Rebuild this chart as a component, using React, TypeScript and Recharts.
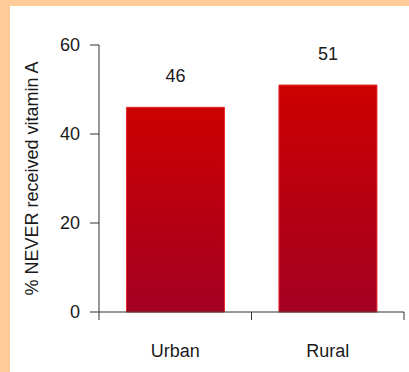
import { Bar, BarChart, LabelList, XAxis, YAxis } from "recharts";

const categories = ["Urban", "Rural"];
const neverReceived = [46, 51];
const yTicks = [0, 20, 40, 60];

const data = categories.map((name, i) => ({ name, value: neverReceived[i] }));

const FONT = "'Liberation Sans', Arial, sans-serif";
const AXIS = "#333";
const TEXT = "#1a1a1a";
const X_TICK_SIZE = 8;
const X_TICK_MARGIN = 4;

// category labels centred in each band, with the tick marks sitting on the band edges
function EdgeTick(props: any) {
  const { x, y, payload, index, visibleTicksCount, width } = props;
  const half = payload.offset ?? width / visibleTicksCount / 2;
  const axisY = y - X_TICK_SIZE - X_TICK_MARGIN;
  const last = index === visibleTicksCount - 1;
  return (
    <g>
      <line x1={x - half} x2={x - half} y1={axisY} y2={axisY + X_TICK_SIZE} stroke={AXIS} />
      {last && <line x1={x + half} x2={x + half} y1={axisY} y2={axisY + X_TICK_SIZE} stroke={AXIS} />}
      <text x={x} y={axisY + 45} textAnchor="middle" fontSize={18} fill={TEXT} fontFamily={FONT}>
        {payload.value}
      </text>
    </g>
  );
}

export default function App() {
  return (
    <div style={{ position: "absolute", left: 0, top: 0, width: 409, height: 372, background: "#FFCC99" }}>
      <div style={{ position: "absolute", left: 10, top: 6, width: 399, height: 366, background: "#fff" }}>
        <BarChart
          width={399}
          height={366}
          data={data}
          margin={{ top: 39, right: 5, left: 0, bottom: 0 }}
          barCategoryGap="18%"
          style={{ fontFamily: FONT }}
        >
          <defs>
            <linearGradient id="barFill" x1="0" y1="0" x2="0" y2="1">
              <stop offset="0%" stopColor="#CC0000" />
              <stop offset="100%" stopColor="#A30022" />
            </linearGradient>
          </defs>
          <XAxis
            dataKey="name"
            height={60}
            axisLine={{ stroke: AXIS }}
            tickLine={false}
            tickSize={X_TICK_SIZE}
            tickMargin={X_TICK_MARGIN}
            tick={<EdgeTick />}
          />
          <YAxis
            width={89}
            domain={[0, 60]}
            ticks={yTicks}
            axisLine={{ stroke: AXIS }}
            tickLine={{ stroke: AXIS }}
            tickSize={9}
            tickMargin={10}
            tick={{ fontSize: 18, fill: TEXT }}
            label={{
              value: "% NEVER received vitamin A",
              angle: -90,
              position: "center",
              dx: -23,
              fontSize: 18,
              fill: TEXT,
            }}
          />
          <Bar dataKey="value" fill="url(#barFill)" stroke="#E8282D" strokeWidth={1} isAnimationActive={false}>
            <LabelList dataKey="value" position="top" offset={25} fontSize={18} fill={TEXT} />
          </Bar>
        </BarChart>
      </div>
    </div>
  );
}
